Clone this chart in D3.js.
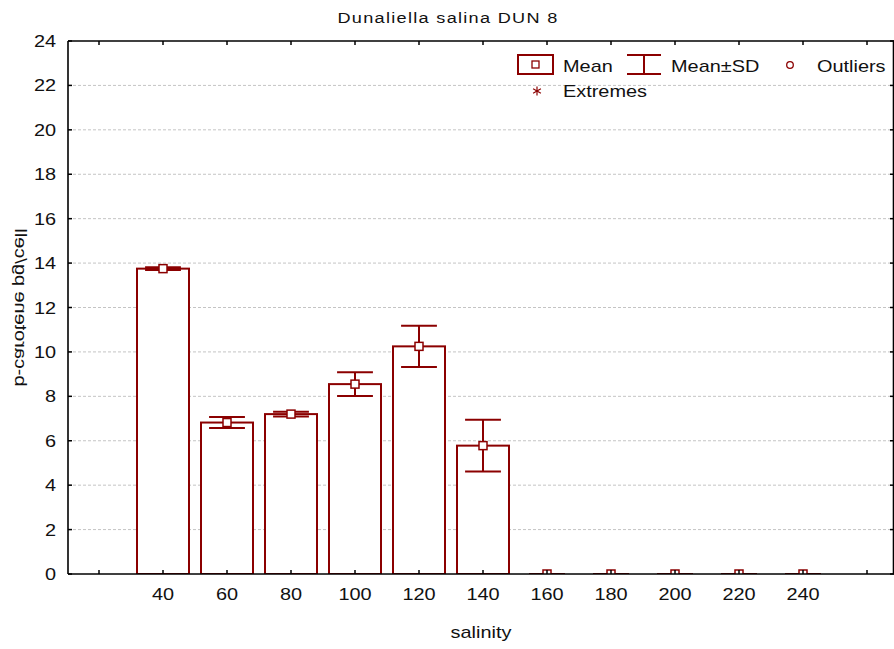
<!DOCTYPE html>
<html>
<head>
<meta charset="utf-8">
<script src="https://cdn.jsdelivr.net/npm/d3@7/dist/d3.min.js"></script>
<style>
  html, body { margin: 0; padding: 0; background: #fff; }
  svg { display: block; font-family: "Liberation Sans", Arial, sans-serif; }
</style>
</head>
<body>
<svg id="chart" width="894" height="649"></svg>
<script>
// Salinity groups and carotene content (mean and standard deviation)
const salinity = [40, 60, 80, 100, 120, 140, 160, 180, 200, 220, 240];
const means    = [13.75, 6.82, 7.20, 8.55, 10.25, 5.78, 0, 0, 0, 0, 0];
const sds      = [0.06, 0.25, 0.11, 0.54, 0.93, 1.16, 0, 0, 0, 0, 0];

// Axis ticks
const yTicks = [0, 2, 4, 6, 8, 10, 12, 14, 16, 18, 20, 22, 24];
const xTickValues = [20, 40, 60, 80, 100, 120, 140, 160, 180, 200, 220, 240, 260];

const titleText = "Dunaliella salina DUN 8";
const xLabel = "salinity";
const yLabel = "b-carotene pg/cell";
const legendItems = ["Mean", "Mean±SD", "Outliers", "Extremes"];

const RED = "#8b0000";
const svg = d3.select("#chart");

const plot = { left: 68, right: 894, top: 41, bottom: 574 };
const x = d3.scaleLinear().domain([10.3125, 268.4375]).range([plot.left, plot.right]);
const y = d3.scaleLinear().domain([0, 24]).range([plot.bottom, plot.top]);

const SX = 1.17; // horizontally widened lettering
function label(parent, px, py, str, anchor, size) {
  return parent.append("g")
    .attr("transform", `translate(${px},${py}) scale(${SX},1)`)
    .append("text")
    .attr("text-anchor", anchor || "start")
    .attr("font-size", size || 17)
    .attr("fill", "#111")
    .text(str);
}

// Horizontal dashed grid
svg.append("g").selectAll("line")
  .data(yTicks.filter(v => v > 0 && v < 24))
  .join("line")
  .attr("x1", plot.left).attr("x2", plot.right)
  .attr("y1", d => y(d)).attr("y2", d => y(d))
  .attr("stroke", "#c4c4c4").attr("stroke-width", 1)
  .attr("stroke-dasharray", "3,2");

// Clip marks to the plotting frame
svg.append("clipPath").attr("id", "frame")
  .append("rect").attr("x", plot.left).attr("y", plot.top)
  .attr("width", plot.right - plot.left).attr("height", plot.bottom - plot.top);

const rows = salinity.map((s, i) => ({ s, m: means[i], sd: sds[i] }));
const marks = svg.append("g").attr("clip-path", "url(#frame)");
const halfBar = 8.125, halfCap = 5.6;

// Bars
marks.selectAll("rect.bar").data(rows).join("rect")
  .attr("class", "bar")
  .attr("x", d => x(d.s - halfBar))
  .attr("width", d => x(d.s + halfBar) - x(d.s - halfBar))
  .attr("y", d => y(d.m))
  .attr("height", d => y(0) - y(d.m))
  .attr("fill", "#fff").attr("stroke", RED).attr("stroke-width", 2);

// Error bars (mean ± SD)
const eb = marks.selectAll("g.eb").data(rows).join("g").attr("class", "eb")
  .attr("stroke", RED).attr("stroke-width", 2);
eb.append("line")
  .attr("x1", d => x(d.s)).attr("x2", d => x(d.s))
  .attr("y1", d => y(d.m + d.sd)).attr("y2", d => y(d.m - d.sd));
eb.append("line")
  .attr("x1", d => x(d.s - halfCap)).attr("x2", d => x(d.s + halfCap))
  .attr("y1", d => y(d.m + d.sd)).attr("y2", d => y(d.m + d.sd));
eb.append("line")
  .attr("x1", d => x(d.s - halfCap)).attr("x2", d => x(d.s + halfCap))
  .attr("y1", d => y(d.m - d.sd)).attr("y2", d => y(d.m - d.sd));

// Mean markers
marks.selectAll("rect.mean").data(rows).join("rect")
  .attr("class", "mean")
  .attr("x", d => x(d.s) - 4).attr("y", d => y(d.m) - 4)
  .attr("width", 8).attr("height", 8)
  .attr("fill", "#fff").attr("stroke", RED).attr("stroke-width", 1.5);

// Frame and axes
const axisG = svg.append("g");
axisG.append("line").attr("x1", plot.left).attr("x2", plot.right)
  .attr("y1", plot.bottom).attr("y2", plot.bottom).attr("stroke", "#000").attr("stroke-width", 1.6);
axisG.append("line").attr("x1", plot.left).attr("x2", plot.right)
  .attr("y1", plot.top).attr("y2", plot.top).attr("stroke", "#000").attr("stroke-width", 1.6);
axisG.append("line").attr("x1", plot.left).attr("x2", plot.left)
  .attr("y1", plot.top).attr("y2", plot.bottom).attr("stroke", "#000").attr("stroke-width", 1.6);
axisG.append("line").attr("x1", plot.right - 0.5).attr("x2", plot.right - 0.5)
  .attr("y1", plot.top).attr("y2", plot.bottom).attr("stroke", "#000").attr("stroke-width", 1.6);

// Inward tick marks
const tickLen = 4;
axisG.selectAll("line.xt").data(xTickValues).join("line")
  .attr("x1", d => x(d)).attr("x2", d => x(d))
  .attr("y1", plot.bottom).attr("y2", plot.bottom - tickLen)
  .attr("stroke", "#000").attr("stroke-width", 1.5);
axisG.selectAll("line.xtt").data(xTickValues).join("line")
  .attr("x1", d => x(d)).attr("x2", d => x(d))
  .attr("y1", plot.top).attr("y2", plot.top + tickLen)
  .attr("stroke", "#000").attr("stroke-width", 1.5);
axisG.selectAll("line.yt").data(yTicks).join("line")
  .attr("x1", plot.left).attr("x2", plot.left + tickLen)
  .attr("y1", d => y(d)).attr("y2", d => y(d))
  .attr("stroke", "#000").attr("stroke-width", 1.5);
axisG.selectAll("line.ytr").data(yTicks).join("line")
  .attr("x1", plot.right).attr("x2", plot.right - tickLen)
  .attr("y1", d => y(d)).attr("y2", d => y(d))
  .attr("stroke", "#000").attr("stroke-width", 1.5);

// Tick labels
yTicks.forEach(v => label(svg, 56, y(v) + 6, String(v), "end"));
salinity.forEach(s => label(svg, x(s), 600, String(s), "middle"));

// Titles
label(svg, 448, 23, titleText, "middle", 15.5).attr("letter-spacing", 1.1);
label(svg, 481, 638, xLabel, "middle");
svg.append("g")
  .attr("transform", `translate(21,${(plot.top + plot.bottom) / 2}) rotate(-90) scale(${SX},-1)`)
  .append("text")
  .attr("text-anchor", "middle").attr("dominant-baseline", "central")
  .attr("font-size", 17).attr("fill", "#111")
  .text(yLabel);

// Legend
const lg = svg.append("g");
lg.append("rect").attr("x", 518).attr("y", 55).attr("width", 35).attr("height", 19)
  .attr("fill", "#fff").attr("stroke", RED).attr("stroke-width", 2);
lg.append("rect").attr("x", 532).attr("y", 61).attr("width", 7).attr("height", 7)
  .attr("fill", "#fff").attr("stroke", RED).attr("stroke-width", 1.3);
label(lg, 563, 72, legendItems[0], "start");

const sdSym = lg.append("g").attr("stroke", RED).attr("stroke-width", 2);
sdSym.append("line").attr("x1", 627).attr("x2", 661).attr("y1", 55).attr("y2", 55);
sdSym.append("line").attr("x1", 627).attr("x2", 661).attr("y1", 74).attr("y2", 74);
sdSym.append("line").attr("x1", 644).attr("x2", 644).attr("y1", 55).attr("y2", 74);
label(lg, 671, 72, legendItems[1], "start");

lg.append("circle").attr("cx", 790).attr("cy", 65).attr("r", 3.3)
  .attr("fill", "#fff").attr("stroke", RED).attr("stroke-width", 1.3);
label(lg, 817, 72, legendItems[2], "start");

const ast = lg.append("g").attr("transform", "translate(537,91)")
  .attr("stroke", RED).attr("stroke-width", 1.2);
[0, 60, 120].forEach(a => {
  const r = a * Math.PI / 180;
  ast.append("line")
    .attr("x1", -4.5 * Math.sin(r)).attr("y1", -4.5 * Math.cos(r))
    .attr("x2", 4.5 * Math.sin(r)).attr("y2", 4.5 * Math.cos(r));
});
label(lg, 563, 97, legendItems[3], "start");
</script>
</body>
</html>
